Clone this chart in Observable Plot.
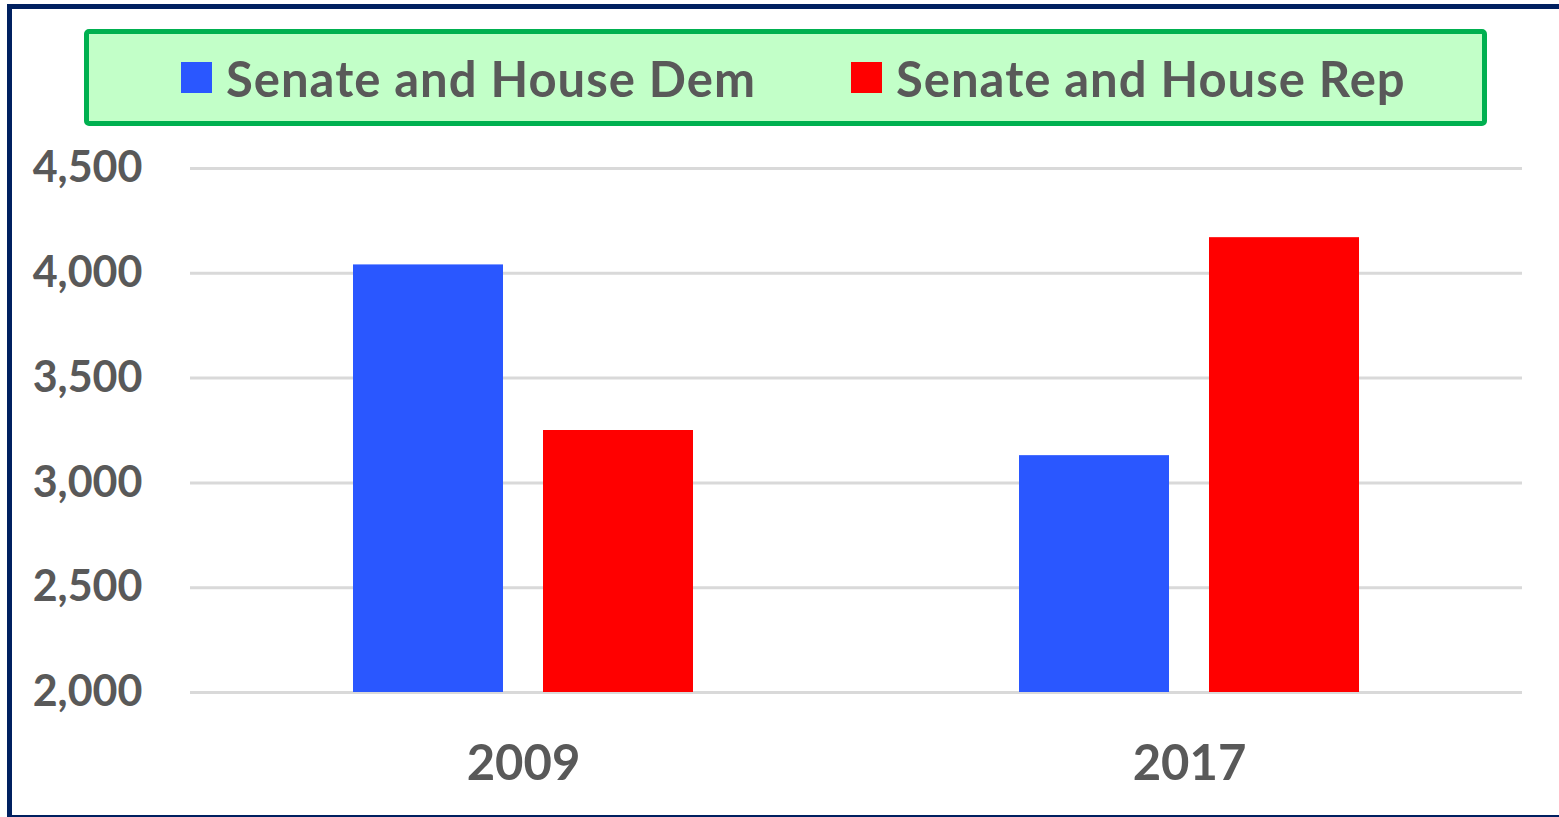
<!DOCTYPE html>
<html>
<head>
<meta charset="utf-8">
<script src="https://cdn.jsdelivr.net/npm/d3@7"></script>
<script src="https://cdn.jsdelivr.net/npm/@observablehq/plot@0.6"></script>
<style>
  html, body { margin: 0; padding: 0; background: #fff; overflow: hidden; }
  #page { position: relative; width: 1559px; height: 817px; overflow: hidden; background: #fff; font-family: Lato, "Open Sans", sans-serif; }
  #frame { position: absolute; left: 7px; top: 4px; width: 1700px; height: 816px; box-sizing: border-box; border: 5px solid #002060; pointer-events: none; }
  #legend { position: absolute; left: 84px; top: 29px; width: 1403px; height: 97px; box-sizing: border-box; border: 5px solid #00b050; border-radius: 5px; background: #c2ffc8; z-index: 2; }
  .item { position: absolute; top: 0; height: 87px; display: flex; align-items: center; font-weight: 700; font-size: 49px; letter-spacing: 1px; color: #595959; white-space: nowrap; }
  .sw { width: 31px; height: 31px; margin-right: 14px; flex: none; }
  #chart { position: absolute; left: 0; top: 130px; }
</style>
</head>
<body>
<div id="page">
  <div id="legend"></div>
  <div id="chart"></div>
  <div id="frame"></div>
</div>
<script>
// ---- data ----
const years = ["2009", "2017"];
const parties = ["Senate and House Dem", "Senate and House Rep"];
const demValues = [4040, 3130];
const repValues = [3250, 4170];
const yTicks = [2000, 2500, 3000, 3500, 4000, 4500];
const colors = ["#2a57ff", "#ff0000"];

const data = [];
years.forEach((yr, i) => {
  data.push({year: yr, party: parties[0], value: demValues[i]});
  data.push({year: yr, party: parties[1], value: repValues[i]});
});

// ---- legend ----
const legend = document.getElementById("legend");
const legendLeft = [92, 762];
parties.forEach((p, i) => {
  const it = document.createElement("div");
  it.className = "item";
  it.style.left = legendLeft[i] + "px";
  const sw = document.createElement("span");
  sw.className = "sw";
  sw.style.background = colors[i];
  const tx = document.createElement("span");
  tx.textContent = p;
  it.appendChild(sw);
  it.appendChild(tx);
  legend.appendChild(it);
});

// ---- chart ----
const chart = Plot.plot({
  width: 1559,
  height: 687,
  marginTop: 38,
  marginBottom: 125,
  marginLeft: 190,
  marginRight: 37,
  style: {fontFamily: "Lato, 'Open Sans', sans-serif", background: "transparent", overflow: "visible"},
  fx: {domain: years, padding: 0, label: null},
  x: {domain: parties, axis: null, paddingInner: 0.21, paddingOuter: 0.853},
  y: {domain: [yTicks[0], yTicks[yTicks.length - 1]], clamp: true, label: null},
  color: {domain: parties, range: colors},
  marks: [
    Plot.ruleY(yTicks, {stroke: "#d9d9d9", strokeWidth: 3}),
    Plot.barY(data, {fx: "year", x: "party", y: "value", fill: "party"}),
    Plot.axisY({ticks: yTicks, tickFormat: d3.format(","), tickSize: 0, tickPadding: 48,
      fontSize: 43, fontWeight: 700, fill: "#595959", label: null}),
    Plot.axisFx({anchor: "bottom", tickSize: 0, tickPadding: 53, fontSize: 49, fontWeight: 700,
      fill: "#595959", label: null})
  ]
});
document.getElementById("chart").appendChild(chart);
</script>
</body>
</html>
